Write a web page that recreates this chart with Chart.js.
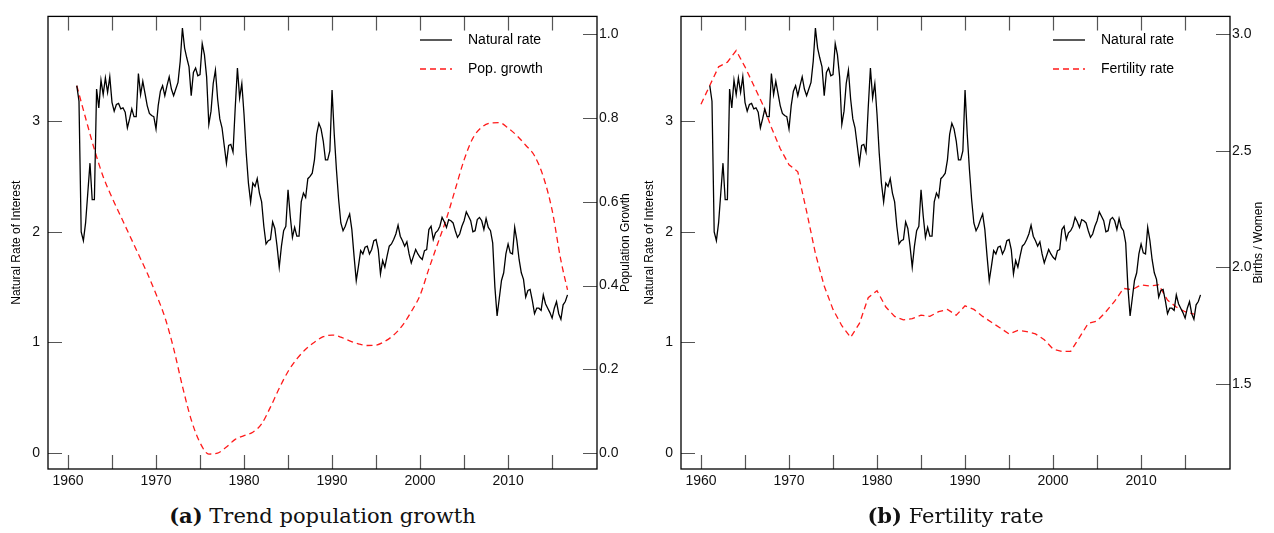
<!DOCTYPE html>
<html>
<head>
<meta charset="utf-8">
<script src="https://cdn.jsdelivr.net/npm/chart.js@4.4.1/dist/chart.umd.min.js"></script>
<style>
  body { margin: 0; background: #fff; }
  #page { position: relative; width: 1274px; height: 533px; overflow: hidden; }
  .panel { position: absolute; top: 0; width: 637px; height: 500px; }
  #panelA { left: 0; }
  #panelB { left: 633px; }
  .caption { position: absolute; top: 503px; width: 549px; text-align: center;
             font-family: "DejaVu Serif", serif; font-size: 21px; color: #111; }
  #capA { left: 48px; }
  #capB { left: 681px; }
</style>
</head>
<body>
<div id="page">
  <div class="panel" id="panelA"><canvas id="chartA"></canvas></div>
  <div class="panel" id="panelB"><canvas id="chartB"></canvas></div>
  <div class="caption" id="capA"><b>(a)</b> Trend population growth</div>
  <div class="caption" id="capB"><b>(b)</b> Fertility rate</div>
</div>
<script>
// quarterly natural rate of interest, 1961Q1 .. 2016Q4 (one row per year)
const firstYear = 1961;
const naturalRate = [
  3.32, 3.18, 2.00, 1.92,
  2.08, 2.35, 2.62, 2.29,
  2.29, 3.29, 3.12, 3.37,
  3.24, 3.39, 3.26, 3.40,
  3.17, 3.09, 3.15, 3.16,
  3.11, 3.12, 3.08, 2.94,
  3.02, 3.11, 3.04, 3.04,
  3.43, 3.24, 3.36, 3.25,
  3.14, 3.07, 3.05, 3.04,
  2.93, 3.14, 3.27, 3.32,
  3.23, 3.32, 3.40, 3.29,
  3.23, 3.29, 3.35, 3.54,
  3.84, 3.66, 3.57, 3.49,
  3.23, 3.44, 3.48, 3.41,
  3.42, 3.70, 3.60, 3.40,
  2.97, 3.09, 3.34, 3.46,
  3.20, 3.02, 2.94, 2.78,
  2.62, 2.78, 2.79, 2.72,
  3.12, 3.48, 3.21, 3.34,
  3.06, 2.71, 2.44, 2.27,
  2.44, 2.41, 2.48, 2.35,
  2.27, 2.05, 1.89, 1.92,
  1.93, 2.09, 2.03, 1.87,
  1.68, 1.87, 2.01, 2.05,
  2.38, 2.14, 1.95, 2.04,
  1.96, 1.96, 2.27, 2.35,
  2.31, 2.48, 2.50, 2.53,
  2.65, 2.88, 2.98, 2.93,
  2.82, 2.65, 2.65, 2.73,
  3.28, 2.88, 2.56, 2.29,
  2.08, 2.01, 2.05, 2.11,
  2.16, 2.02, 1.78, 1.56,
  1.69, 1.83, 1.80, 1.86,
  1.87, 1.80, 1.84, 1.92,
  1.93, 1.84, 1.62, 1.74,
  1.68, 1.78, 1.87, 1.89,
  1.93, 1.98, 2.06, 1.96,
  1.92, 1.87, 1.91, 1.80,
  1.72, 1.78, 1.84, 1.80,
  1.77, 1.75, 1.83, 1.84,
  2.02, 2.05, 1.93, 1.99,
  2.01, 2.05, 2.13, 2.09,
  2.04, 2.11, 2.10, 2.08,
  2.01, 1.95, 1.98, 2.05,
  2.10, 2.18, 2.14, 2.10,
  2.00, 2.01, 2.11, 2.13,
  2.10, 2.02, 2.12, 2.04,
  2.01, 1.90, 1.50, 1.24,
  1.40, 1.56, 1.63, 1.80,
  1.89, 1.81, 1.80, 2.04,
  1.92, 1.75, 1.63, 1.57,
  1.41, 1.47, 1.48, 1.38,
  1.26, 1.31, 1.31, 1.29,
  1.43, 1.35, 1.31, 1.27,
  1.22, 1.31, 1.37, 1.26,
  1.21, 1.34, 1.37, 1.43
];

// trend population growth (annual, %)
const popYears = [1961, 1962, 1963, 1964, 1965, 1966, 1967, 1968, 1969, 1970,
  1971, 1972, 1973, 1974, 1975, 1976, 1977, 1978, 1979, 1980,
  1981, 1982, 1983, 1984, 1985, 1986, 1987, 1988, 1989, 1990,
  1991, 1992, 1993, 1994, 1995, 1996, 1997, 1998, 1999, 2000,
  2001, 2002, 2003, 2004, 2005, 2006, 2007, 2008, 2009, 2010,
  2011, 2012, 2013, 2014, 2015, 2016, 2016.75];
const popGrowth = [0.877, 0.800, 0.725, 0.660, 0.610, 0.565, 0.520, 0.475, 0.430, 0.380,
  0.325, 0.250, 0.160, 0.080, 0.025, -0.002, 0.000, 0.015, 0.033, 0.042,
  0.050, 0.070, 0.110, 0.155, 0.195, 0.225, 0.248, 0.265, 0.278, 0.282,
  0.277, 0.268, 0.261, 0.257, 0.258, 0.267, 0.282, 0.305, 0.338, 0.377,
  0.440, 0.500, 0.560, 0.630, 0.700, 0.752, 0.778, 0.788, 0.789, 0.776,
  0.758, 0.735, 0.710, 0.660, 0.580, 0.460, 0.390];

// total fertility rate (births per woman)
const fertYears = [1960, 1961, 1962, 1963, 1964, 1965, 1966, 1967, 1968, 1969,
  1970, 1971, 1972, 1973, 1974, 1975, 1976, 1977, 1978, 1979,
  1980, 1981, 1982, 1983, 1984, 1985, 1986, 1987, 1988, 1989,
  1990, 1991, 1992, 1993, 1994, 1995, 1996, 1997, 1998, 1999,
  2000, 2001, 2002, 2003, 2004, 2005, 2006, 2007, 2008, 2009,
  2010, 2011, 2012, 2013, 2014, 2015, 2016];
const fertility = [2.70, 2.78, 2.86, 2.88, 2.93, 2.86, 2.78, 2.70, 2.60, 2.51,
  2.44, 2.41, 2.24, 2.06, 1.92, 1.82, 1.75, 1.70, 1.76, 1.87,
  1.90, 1.83, 1.79, 1.775, 1.78, 1.795, 1.79, 1.81, 1.82, 1.795,
  1.835, 1.82, 1.79, 1.765, 1.74, 1.715, 1.73, 1.725, 1.715, 1.69,
  1.65, 1.64, 1.64, 1.70, 1.76, 1.77, 1.81, 1.855, 1.91, 1.905,
  1.925, 1.92, 1.925, 1.86, 1.83, 1.81, 1.80];

const yearTicks = [1960, 1965, 1970, 1975, 1980, 1985, 1990, 1995, 2000, 2005, 2010, 2015];
const yearLabels = [1960, 1970, 1980, 1990, 2000, 2010];
const rateTicks = [0, 1, 2, 3];
const popTicks = [0, 0.2, 0.4, 0.6, 0.8, 1.0];
const fertTicks = [1.5, 2.0, 2.5, 3.0];

const RED = '#ff1a1a';
const AXIS_FONT = { family: '"Liberation Sans", Arial, sans-serif', size: 14 };

const toPoints = (xs, ys) => ys.map((y, i) => ({ x: xs[i], y }));
const rateSeries = naturalRate.map((y, i) => ({ x: firstYear + i / 4, y }));

// box, inward tick marks, axis titles and legend
const framePlugin = {
  id: 'frame',
  afterDraw(chart, args, opts) {
    const { ctx, chartArea: a, scales } = chart;
    ctx.save();
    ctx.strokeStyle = '#555';
    ctx.lineWidth = 1.2;
    ctx.beginPath();
    scales.x.ticks.forEach(t => {
      const px = Math.round(scales.x.getPixelForValue(t.value)) + 0.5;
      ctx.moveTo(px, a.bottom); ctx.lineTo(px, a.bottom - 14);
      ctx.moveTo(px, a.top); ctx.lineTo(px, a.top + 14);
    });
    scales.yL.ticks.forEach(t => {
      const py = Math.round(scales.yL.getPixelForValue(t.value)) + 0.5;
      ctx.moveTo(a.left, py); ctx.lineTo(a.left + 14, py);
    });
    scales.yR.ticks.forEach(t => {
      const py = Math.round(scales.yR.getPixelForValue(t.value)) + 0.5;
      ctx.moveTo(a.right, py); ctx.lineTo(a.right - 14, py);
    });
    ctx.stroke();

    ctx.strokeStyle = '#000';
    ctx.lineWidth = 1.3;
    ctx.strokeRect(a.left, a.top, a.right - a.left, a.bottom - a.top);

    // axis titles, both reading upwards
    ctx.fillStyle = '#000';
    ctx.font = '12px "Liberation Sans", Arial, sans-serif';
    ctx.textAlign = 'center';
    ctx.textBaseline = 'middle';
    const midY = (a.top + a.bottom) / 2;
    [[17, opts.leftTitle], [626, opts.rightTitle]].forEach(([x, text]) => {
      ctx.save();
      ctx.translate(x, midY);
      ctx.rotate(-Math.PI / 2);
      ctx.fillText(text, 0, 0);
      ctx.restore();
    });

    // legend
    ctx.font = '14px "Liberation Sans", Arial, sans-serif';
    ctx.textAlign = 'left';
    chart.data.datasets.forEach((ds, i) => {
      const y = 40 + i * 29;
      ctx.strokeStyle = ds.borderColor;
      ctx.lineWidth = ds.borderWidth;
      ctx.setLineDash(ds.borderDash || []);
      ctx.beginPath();
      ctx.moveTo(420, y); ctx.lineTo(452, y);
      ctx.stroke();
      ctx.setLineDash([]);
      ctx.fillText(ds.label, 468, y);
    });
    ctx.restore();
  }
};

function makeChart(canvasId, second, right) {
  return new Chart(document.getElementById(canvasId), {
    type: 'line',
    data: {
      datasets: [
        {
          label: 'Natural rate',
          data: rateSeries,
          yAxisID: 'yL',
          borderColor: '#000',
          borderWidth: 1.3,
          pointRadius: 0,
          tension: 0
        },
        {
          label: second.label,
          data: second.data,
          yAxisID: 'yR',
          borderColor: RED,
          borderWidth: 1.3,
          borderDash: [6, 4],
          pointRadius: 0,
          cubicInterpolationMode: second.smooth ? 'monotone' : 'default',
          tension: 0
        }
      ]
    },
    options: {
      responsive: true,
      maintainAspectRatio: false,
      animation: false,
      layout: { padding: { top: 11, left: 0, right: 0, bottom: 0 } },
      plugins: {
        legend: { display: false },
        tooltip: { enabled: false },
        frame: { leftTitle: 'Natural Rate of Interest', rightTitle: right.title }
      },
      scales: {
        x: {
          type: 'linear',
          min: 1957.73,
          max: 2020.1,
          grid: { display: false, drawTicks: false },
          border: { display: false },
          afterBuildTicks: s => { s.ticks = yearTicks.map(v => ({ value: v })); },
          afterFit: s => { s.height = 31; },
          ticks: {
            autoSkip: false,
            maxRotation: 0,
            padding: 4,
            color: '#111',
            font: AXIS_FONT,
            callback: v => (yearLabels.includes(v) ? String(v) : '')
          }
        },
        yL: {
          position: 'left',
          min: -0.143,
          max: 3.946,
          grid: { display: false, drawTicks: false },
          border: { display: false },
          afterBuildTicks: s => { s.ticks = rateTicks.map(v => ({ value: v })); },
          afterFit: s => { s.width = 48; },
          ticks: { padding: 8, color: '#111', font: AXIS_FONT, callback: v => String(v) }
        },
        yR: {
          position: 'right',
          min: right.min,
          max: right.max,
          grid: { display: false, drawTicks: false },
          border: { display: false },
          afterBuildTicks: s => { s.ticks = right.ticks.map(v => ({ value: v })); },
          afterFit: s => { s.width = 40; },
          ticks: { padding: 2, color: '#111', font: AXIS_FONT, callback: v => v.toFixed(1) }
        }
      }
    },
    plugins: [framePlugin]
  });
}

makeChart('chartA',
  { label: 'Pop. growth', data: toPoints(popYears, popGrowth), smooth: true },
  { title: 'Population Growth', min: -0.0377, max: 1.0425, ticks: popTicks });

makeChart('chartB',
  { label: 'Fertility rate', data: toPoints(fertYears, fertility), smooth: false },
  { title: 'Births / Women', min: 1.1356, max: 3.0763, ticks: fertTicks });
</script>
</body>
</html>
